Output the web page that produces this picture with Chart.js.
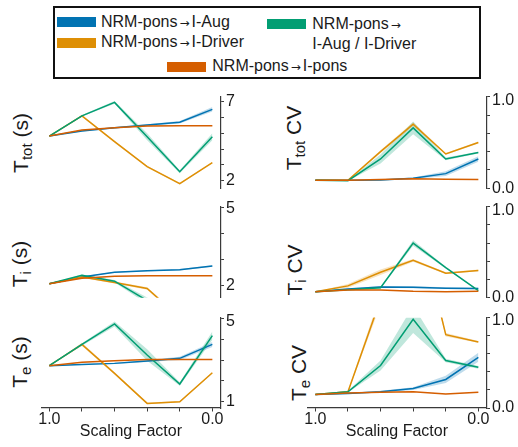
<!DOCTYPE html>
<html>
<head>
<meta charset="utf-8">
<script src="https://cdn.jsdelivr.net/npm/chart.js@4.4.1/dist/chart.umd.min.js"></script>
<style>
html, body { margin: 0; padding: 0; background: #fff; }
#fig { position: relative; width: 518px; height: 447px; overflow: hidden;
       font-family: "Liberation Sans", Arial, sans-serif; color: #1a1a1a; }
#fig canvas { position: absolute; }
.ylab { position: absolute; white-space: nowrap; font-size: 21px; line-height: 21px;
        transform: translate(-50%, -50%) rotate(-90deg); }
.ylab sub { font-size: 15px; position: relative; top: 4px; vertical-align: baseline; line-height: 0; }
.legend-box { position: absolute; left: 53px; top: 6px; width: 428px; height: 73px;
              border: 2px solid #111; box-sizing: border-box; }
.sw { position: absolute; width: 39px; height: 10px; }
.lt { position: absolute; font-size: 16px; line-height: 16px; white-space: nowrap; }
.arr { font-family: "DejaVu Sans", sans-serif; font-size: 12px; margin: 0 2px; }
</style>
</head>
<body>
<div id="fig">
  <div class="legend-box"></div>
  <div class="sw" style="left:57.3px;top:17.3px;background:#0173b2"></div>
  <div class="lt" style="left:101px;top:13.8px">NRM-pons<span class="arr">→</span>I-Aug</div>
  <div class="sw" style="left:57.3px;top:37.7px;background:#de8f05"></div>
  <div class="lt" style="left:101px;top:34.2px">NRM-pons<span class="arr">→</span>I-Driver</div>
  <div class="sw" style="left:267.3px;top:18.8px;background:#029e73"></div>
  <div class="lt" style="left:312.3px;top:15.8px">NRM-pons<span class="arr">→</span></div>
  <div class="lt" style="left:312.3px;top:35.8px">I-Aug / I-Driver</div>
  <div class="sw" style="left:167.3px;top:61.7px;background:#d55e00"></div>
  <div class="lt" style="left:212.3px;top:58.2px">NRM-pons<span class="arr">→</span>I-pons</div>

  <div class="ylab" style="left:20.4px;top:142.5px">T<sub>tot</sub> (s)</div>
  <div class="ylab" style="left:19.4px;top:264px">T<sub>i</sub> (s)</div>
  <div class="ylab" style="left:19.4px;top:362px">T<sub>e</sub> (s)</div>
  <div class="ylab" style="left:292.7px;top:138px">T<sub>tot</sub> CV</div>
  <div class="ylab" style="left:294.4px;top:270px">T<sub>i</sub> CV</div>
  <div class="ylab" style="left:297.7px;top:372.5px">T<sub>e</sub> CV</div>
</div>
<script>
// x positions shared by every panel
const scalingFactor = [1.0, 0.8, 0.6, 0.4, 0.2, 0.0];
const xTicks = [0.0, 0.2, 0.4, 0.6, 0.8, 1.0];

// T_tot (s)
const ttotAug    = [4.83, 5.15, 5.35, 5.53, 5.70, 6.52];
const ttotDriver = [4.83, 6.11, 4.47, 2.89, 1.81, 3.14];
const ttotBoth   = [4.83, 6.11, 6.96, 4.78, 2.57, 4.78];
const ttotPons   = [4.83, 5.21, 5.35, 5.46, 5.48, 5.48];
const ttotAugBand    = [0, 0.03, 0.04, 0.05, 0.08, 0.14];
const ttotDriverBand = [0, 0.06, 0.06, 0.05, 0.05, 0.04];
const ttotBothBand   = [0, 0.05, 0.08, 0.22, 0.10, 0.22];
const ttotPonsBand   = [0, 0.02, 0.02, 0.02, 0.02, 0.02];

// T_i (s)
const tiAug    = [2.07, 2.33, 2.51, 2.57, 2.61, 2.75];
const tiDriver = [2.07, 2.33, 2.12, 1.89, 0.79, 0.64];
const tiBoth   = [2.07, 2.40, 2.17, 1.43, 0.66, 0.48];
const tiPons   = [2.07, 2.28, 2.36, 2.38, 2.38, 2.38];
const tiAugBand    = [0, 0.02, 0.02, 0.02, 0.03, 0.03];
const tiDriverBand = [0, 0.03, 0.04, 0.05, 0.05, 0.05];
const tiBothBand   = [0, 0.03, 0.05, 0.12, 0.08, 0.08];
const tiPonsBand   = [0, 0.01, 0.01, 0.01, 0.01, 0.01];

// T_e (s)
const teAug    = [2.73, 2.79, 2.84, 2.95, 3.08, 3.75];
const teDriver = [2.73, 3.75, 2.36, 0.92, 1.00, 2.39];
const teBoth   = [2.73, 3.75, 4.73, 3.24, 1.85, 4.17];
const tePons   = [2.73, 2.89, 2.97, 3.03, 3.03, 3.03];
const teAugBand    = [0, 0.02, 0.03, 0.05, 0.08, 0.12];
const teDriverBand = [0, 0.08, 0.05, 0.04, 0.04, 0.04];
const teBothBand   = [0, 0.06, 0.12, 0.28, 0.08, 0.20];
const tePonsBand   = [0, 0.01, 0.01, 0.01, 0.01, 0.01];

// T_tot CV
const ttotCvAug    = [0.087, 0.087, 0.09, 0.11, 0.16, 0.32];
const ttotCvDriver = [0.087, 0.087, 0.40, 0.70, 0.375, 0.50];
const ttotCvBoth   = [0.087, 0.083, 0.32, 0.66, 0.32, 0.39];
const ttotCvPons   = [0.087, 0.087, 0.095, 0.105, 0.10, 0.095];
const ttotCvAugBand    = [0, 0.004, 0.006, 0.008, 0.025, 0.03];
const ttotCvDriverBand = [0, 0.004, 0.015, 0.02, 0.01, 0.01];
const ttotCvBothBand   = [0, 0.004, 0.05, 0.07, 0.015, 0.01];
const ttotCvPonsBand   = [0, 0.002, 0.002, 0.002, 0.002, 0.002];

// T_i CV
const tiCvAug    = [0.066, 0.095, 0.118, 0.115, 0.105, 0.10];
const tiCvDriver = [0.066, 0.13, 0.28, 0.41, 0.27, 0.30];
const tiCvBoth   = [0.066, 0.088, 0.11, 0.60, 0.33, 0.077];
const tiCvPons   = [0.066, 0.085, 0.085, 0.07, 0.066, 0.07];
const tiCvAugBand    = [0, 0.005, 0.01, 0.01, 0.01, 0.01];
const tiCvDriverBand = [0, 0.02, 0.03, 0.015, 0.01, 0.01];
const tiCvBothBand   = [0, 0.004, 0.008, 0.03, 0.01, 0.004];
const tiCvPonsBand   = [0, 0.003, 0.003, 0.003, 0.003, 0.003];

// T_e CV
const teCvAug    = [0.148, 0.16, 0.18, 0.215, 0.315, 0.56];
const teCvDriver = [0.148, 0.18, 1.2, 2.3, 0.81, 0.73];
const teCvBoth   = [0.148, 0.18, 0.47, 0.98, 0.525, 0.45];
const teCvPons   = [0.148, 0.165, 0.175, 0.18, 0.155, 0.175];
const teCvAugBand    = [0, 0.005, 0.01, 0.015, 0.04, 0.05];
const teCvDriverBand = [0, 0.01, 0.06, 0.10, 0.02, 0.01];
const teCvBothBand   = [0, 0.01, 0.055, 0.15, 0.02, 0.015];
const teCvPonsBand   = [0, 0.003, 0.003, 0.003, 0.003, 0.003];

// y tick positions per row
const ttotTicks = [2, 3, 4, 5, 6, 7];
const tiTicks = [2, 3, 4, 5];
const teTicks = [1, 2, 3, 4, 5];
const cvTicks = [0.0, 0.2, 0.4, 0.6, 0.8, 1.0];

const COLORS = { aug: '#0173b2', driver: '#de8f05', both: '#029e73', pons: '#d55e00' };
const AXIS = '#3a3a3a';
const TEXT = '#1a1a1a';
const FAMILY = '"Liberation Sans", Arial, sans-serif';

function rgba(hex, a) {
  const n = parseInt(hex.slice(1), 16);
  return `rgba(${(n >> 16) & 255},${(n >> 8) & 255},${n & 255},${a})`;
}
function xy(vals) { return vals.map((v, i) => ({ x: scalingFactor[i], y: v })); }

function series(vals, band, color, order) {
  const lo = vals.map((v, i) => v - band[i]);
  const hi = vals.map((v, i) => v + band[i]);
  return [
    { data: xy(lo), borderColor: 'rgba(0,0,0,0)', borderWidth: 0, pointRadius: 0, fill: false, order: 10 },
    { data: xy(hi), borderColor: 'rgba(0,0,0,0)', borderWidth: 0, pointRadius: 0,
      fill: '-1', backgroundColor: rgba(color, 0.25), order: 10 },
    { data: xy(vals), borderColor: color, borderWidth: 1.5, pointRadius: 0, fill: false, order: order }
  ];
}

const fig = document.getElementById('fig');

function panel(p) {
  const c = document.createElement('canvas');
  c.width = p.w; c.height = p.h;
  c.style.left = p.x + 'px'; c.style.top = p.y + 'px';
  c.style.width = p.w + 'px'; c.style.height = p.h + 'px';
  fig.appendChild(c);

  const top = p.yTicks[p.yTicks.length - 1];
  const bottom = p.yTicks[0];

  const datasets = [].concat(
    series(p.aug, p.augBand, COLORS.aug, 4),
    series(p.driver, p.driverBand, COLORS.driver, 3),
    series(p.both, p.bothBand, COLORS.both, 2),
    series(p.pons, p.ponsBand, COLORS.pons, 1)
  );

  new Chart(c, {
    type: 'line',
    data: { datasets },
    options: {
      responsive: false, animation: false, devicePixelRatio: 1,
      layout: { padding: { left: p.padL, top: p.padT, right: 0, bottom: p.padB } },
      plugins: { legend: { display: false }, tooltip: { enabled: false } },
      elements: { line: { tension: 0 } },
      scales: {
        x: {
          type: 'linear', reverse: true, min: -0.05, max: 1.05, display: p.showX,
          afterBuildTicks: s => { s.ticks = xTicks.map(v => ({ value: v })); },
          grid: { display: true, drawOnChartArea: false, drawTicks: true, tickLength: 3.5, color: AXIS, lineWidth: 1 },
          border: { display: true, color: AXIS, width: 1.2 },
          ticks: { autoSkip: false, maxRotation: 0, padding: 0, color: TEXT,
                   font: { family: FAMILY, size: 16, lineHeight: 1 },
                   callback: v => v === 1 ? '1.0' : (v === 0 ? '0.0' : '') },
          title: { display: true, text: 'Scaling Factor', color: TEXT,
                   font: { family: FAMILY, size: 16, lineHeight: 1.2 }, padding: { top: 0, bottom: 5.6 } },
          afterFit: s => {
            if (p.showX) { s.height = 39; } else { s.height = 0; }
            s.paddingLeft = 0; s.paddingRight = 0;
          }
        },
        y: {
          position: 'right', min: p.yMin, max: p.yMax,
          afterBuildTicks: s => { s.ticks = p.yTicks.map(v => ({ value: v })); },
          grid: { display: true, drawOnChartArea: false, drawTicks: true, tickLength: 3.5, color: AXIS, lineWidth: 1 },
          border: { display: true, color: AXIS, width: 1.2 },
          ticks: {
            autoSkip: false, padding: 2, color: TEXT,
            font: ctx => ({ family: FAMILY, size: 16,
                            lineHeight: (ctx.tick && ctx.tick.value === top && p.topShift) ? (2 * p.topShift / 16) : 1.2 }),
            callback: v => v === top ? (p.topShift ? ['', p.topLabel] : p.topLabel)
                                     : (v === bottom ? p.bottomLabel : '')
          },
          afterFit: s => { s.width = p.yW; s.paddingTop = 0; s.paddingBottom = 0; }
        }
      }
    }
  });
}

const LEFT = { x: 0, w: 260, padL: 41.2, yW: 39.5 };
const RIGHT = { x: 260, w: 258, padL: 47.2, yW: 31.5 };
const ROW1 = { y: 80, h: 125, padT: 16.7, padB: 16.7, showX: false };
const ROW2 = { y: 192, h: 120, padT: 14.7, padB: 14.3, showX: false };
const ROW3 = { y: 300, h: 147, padT: 17.5, padB: 0, showX: true };

panel(Object.assign({}, LEFT, ROW1, {
  yMin: 1.52, yMax: 7.32, yTicks: ttotTicks, topLabel: '7', bottomLabel: '2', topShift: 0,
  aug: ttotAug, driver: ttotDriver, both: ttotBoth, pons: ttotPons,
  augBand: ttotAugBand, driverBand: ttotDriverBand, bothBand: ttotBothBand, ponsBand: ttotPonsBand
}));
panel(Object.assign({}, LEFT, ROW2, {
  yMin: 1.54, yMax: 5.02, yTicks: tiTicks, topLabel: '5', bottomLabel: '2', topShift: 1.6,
  aug: tiAug, driver: tiDriver, both: tiBoth, pons: tiPons,
  augBand: tiAugBand, driverBand: tiDriverBand, bothBand: tiBothBand, ponsBand: tiPonsBand
}));
panel(Object.assign({}, LEFT, ROW3, {
  yMin: 0.70, yMax: 5.04, yTicks: teTicks, topLabel: '5', bottomLabel: '1', topShift: 2.9,
  aug: teAug, driver: teDriver, both: teBoth, pons: tePons,
  augBand: teAugBand, driverBand: teDriverBand, bothBand: teBothBand, ponsBand: tePonsBand
}));
panel(Object.assign({}, RIGHT, ROW1, {
  yMin: 0, yMax: 1, yTicks: cvTicks, topLabel: '1.0', bottomLabel: '0.0', topShift: 4.3,
  aug: ttotCvAug, driver: ttotCvDriver, both: ttotCvBoth, pons: ttotCvPons,
  augBand: ttotCvAugBand, driverBand: ttotCvDriverBand, bothBand: ttotCvBothBand, ponsBand: ttotCvPonsBand
}));
panel(Object.assign({}, RIGHT, ROW2, {
  yMin: 0, yMax: 1, yTicks: cvTicks, topLabel: '1.0', bottomLabel: '0.0', topShift: 4.3,
  aug: tiCvAug, driver: tiCvDriver, both: tiCvBoth, pons: tiCvPons,
  augBand: tiCvAugBand, driverBand: tiCvDriverBand, bothBand: tiCvBothBand, ponsBand: tiCvPonsBand
}));
panel(Object.assign({}, RIGHT, ROW3, {
  yMin: 0, yMax: 1, yTicks: cvTicks, topLabel: '1.0', bottomLabel: '0.0', topShift: 3.2,
  aug: teCvAug, driver: teCvDriver, both: teCvBoth, pons: teCvPons,
  augBand: teCvAugBand, driverBand: teCvDriverBand, bothBand: teCvBothBand, ponsBand: teCvPonsBand
}));
</script>
</body>
</html>
